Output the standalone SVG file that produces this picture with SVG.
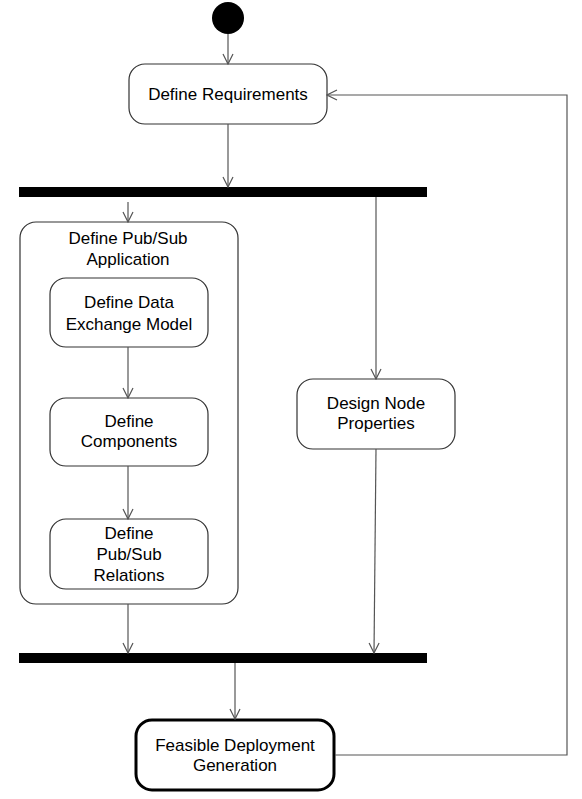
<svg xmlns="http://www.w3.org/2000/svg" width="582" height="799" viewBox="0 0 582 799">
<defs>
<style>
.n{fill:#fff;stroke:#333;stroke-width:1.2}
.t{font-family:"Liberation Sans",Arial,sans-serif;font-size:17px;fill:#000;text-anchor:middle}
.c{fill:none;stroke:#555;stroke-width:1.2}
.bar{fill:#000}
</style>
<marker id="a" viewBox="0 0 12 12" refX="11" refY="6" markerWidth="12" markerHeight="12" markerUnits="userSpaceOnUse" orient="auto">
<path d="M1,1 L11,6 L1,11" fill="none" stroke="#555" stroke-width="1.2"/>
</marker>
</defs>
<rect width="582" height="799" fill="#fff"/>
<g id="start"><circle cx="228" cy="18" r="16" fill="#000"/></g>
<g id="define-requirements">
<rect class="n" x="129" y="64" width="198" height="60" rx="16"/>
<text class="t" x="228" y="100">Define Requirements</text>
</g>
<g id="fork"><rect class="bar" x="19" y="187" width="408" height="10"/></g>
<g id="define-pubsub-application">
<rect class="n" x="20" y="222" width="218" height="382" rx="16"/>
<text class="t" x="128" y="244">Define Pub/Sub</text>
<text class="t" x="128" y="265">Application</text>
</g>
<g id="define-data-exchange-model">
<rect class="n" x="50" y="278" width="158" height="69" rx="16"/>
<text class="t" x="129" y="308">Define Data</text>
<text class="t" x="129" y="330">Exchange Model</text>
</g>
<g id="define-components">
<rect class="n" x="50" y="398" width="158" height="68" rx="16"/>
<text class="t" x="129" y="427">Define</text>
<text class="t" x="129" y="447">Components</text>
</g>
<g id="define-pubsub-relations">
<rect class="n" x="50" y="519" width="158" height="70" rx="16"/>
<text class="t" x="129" y="539">Define</text>
<text class="t" x="129" y="560">Pub/Sub</text>
<text class="t" x="129" y="581">Relations</text>
</g>
<g id="design-node-properties">
<rect class="n" x="297" y="379" width="158" height="70" rx="16"/>
<text class="t" x="376" y="409">Design Node</text>
<text class="t" x="376" y="429">Properties</text>
</g>
<g id="join"><rect class="bar" x="19" y="653" width="408" height="10"/></g>
<g id="feasible-deployment-generation">
<rect x="136" y="720" width="198" height="70" rx="16" fill="#fff" stroke="#000" stroke-width="3"/>
<text class="t" x="235" y="751">Feasible Deployment</text>
<text class="t" x="235" y="771">Generation</text>
</g>
<g id="connectors">
<path class="c" d="M228,34 V64" marker-end="url(#a)"/>
<path class="c" d="M228,124 V187" marker-end="url(#a)"/>
<path class="c" d="M128,202 V222" marker-end="url(#a)"/>
<path class="c" d="M376,197 V379" marker-end="url(#a)"/>
<path class="c" d="M128,347 V398" marker-end="url(#a)"/>
<path class="c" d="M128,466 V519" marker-end="url(#a)"/>
<path class="c" d="M128,604 V653" marker-end="url(#a)"/>
<path class="c" d="M376,449 L374,653" marker-end="url(#a)"/>
<path class="c" d="M235,663 V719" marker-end="url(#a)"/>
<path class="c" d="M335,755 H567 V95 H327" marker-end="url(#a)"/>
</g>
</svg>
